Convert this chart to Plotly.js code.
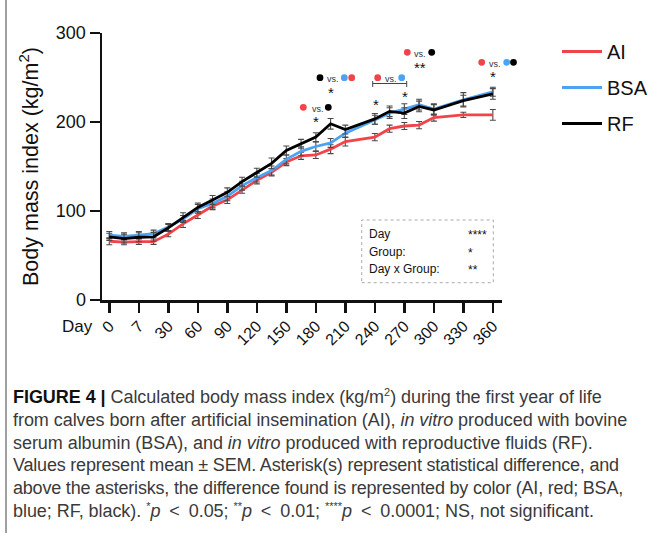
<!DOCTYPE html>
<html>
<head>
<meta charset="utf-8">
<script src="https://cdn.plot.ly/plotly-3.0.1.min.js"></script>
<style>
  html, body { margin:0; padding:0; background:#fff; }
  #wrap { position:relative; width:655px; height:540px; overflow:hidden; }
  #plot { position:absolute; left:0; top:0; width:655px; height:540px; }
  #border { position:absolute; left:5px; top:0; width:2px; height:533px; background:#a0a0a0; }
  #cap { position:absolute; left:13px; top:386px; font-family:'Liberation Sans', Arial, sans-serif; font-size:18px; line-height:22.8px; color:#3a3a3a; white-space:nowrap; letter-spacing:-0.05px; }
  #cap div { height:22.8px; }
  #cap b { color:#111; }
  #cap .sp { font-size:11px; position:relative; top:-7px; }
  #cap .op { margin:0 4px; }
  #cap .tight { letter-spacing:-0.2px; }
</style>
</head>
<body>
<div id="wrap">
  <div id="plot"></div>
  <div id="border"></div>
  <div id="cap">
    <div><b>FIGURE 4 |</b> Calculated body mass index (kg/m<span class="sp">2</span>) during the first year of life</div>
    <div>from calves born after artificial insemination (AI), <i>in vitro</i> produced with bovine</div>
    <div>serum albumin (BSA), and <i>in vitro</i> produced with reproductive fluids (RF).</div>
    <div class="tight">Values represent mean ± SEM. Asterisk(s) represent statistical difference, and</div>
    <div class="tight">above the asterisks, the difference found is represented by color (AI, red; BSA,</div>
    <div>blue; RF, black). <span class="sp">*</span><i>p</i> <span class="op">&lt;</span> 0.05; <span class="sp">**</span><i>p</i> <span class="op">&lt;</span> 0.01; <span class="sp">****</span><i>p</i> <span class="op">&lt;</span> 0.0001; NS, not significant.</div>
  </div>
</div>
<script>
// Axis slots (every sampling day, evenly spaced on the axis)
const slotDays = [0,3,7,15,30,45,60,75,90,105,120,135,150,165,180,195,210,225,240,255,270,285,300,315,330,345,360];
const tickDays = [0,7,30,60,90,120,150,180,210,240,270,300,330,360];
const tickLabels = ['0','7','30','60','90','120','150','180','210','240','270','300','330','360'];

// Sampling days with data
const days = [0,3,7,15,30,45,60,75,90,105,120,135,150,165,180,195,210,240,255,270,285,300,330,360];

// Mean body mass index (kg/m2)
const aiMean  = [66,65,65.5,65.5,74,85.5,95.5,105.5,112.5,124,134.5,143.5,155,162,163,169.5,178,183,192.5,195.5,196.5,205,208,208];
const bsaMean = [73,71.5,73,74.5,82,91,102.5,108.5,116.5,128.5,137.5,145.5,158,167,172.5,176.5,187.5,202.5,210,214.5,219.5,214.5,225,234];
const rfMean  = [71,69,70.5,71,81,93,104,112.5,121,133,143,153.5,168,175.5,183,198,191.5,203.5,212,210,217.5,213.5,224,231.5];

// SEM
const aiSem  = [4,3,3,3,3,4,4,4,4,4,4,4,4,4,4,5,5,4,4,4,4,4,3,6];
const bsaSem = [4,4,4,4,4,4,5,5,5,5,5,5,5,5,5,5,5,5,6,6,6,6,8,5];
const rfSem  = [4,5,5,5,4,5,5,5,5,5,5,6,5,5,5,6,5,6,6,6,6,6,6,6];

const seriesNames = ['AI','BSA','RF'];

const FONT = 'Liberation Sans, Arial, sans-serif';
const RED = '#f0444a', BLUE = '#4da2f2', BLACK = '#000000';

const xs = days.map(d => slotDays.indexOf(d));
const tickSlots = tickDays.map(d => slotDays.indexOf(d));

function trace(name, y, sem, color) {
  return {
    type:'scatter', mode:'lines', name:name, x:xs, y:y,
    line:{color:color, width:2.8},
    error_y:{type:'data', array:sem, visible:true, color:'#4a4a4a', thickness:1.1, width:3},
    legendgroup:name, hoverinfo:'skip'
  };
}
const data = [
  trace(seriesNames[0], aiMean, aiSem, RED),
  trace(seriesNames[1], bsaMean, bsaSem, BLUE),
  trace(seriesNames[2], rfMean, rfSem, BLACK)
];

// plot-area geometry (pixels)
const L = 102, R = 153, T = 33, B = 240, W = 655 - L - R, H = 540 - T - B;
const px = x => (x - L) / W;
const py = y => (540 - B - y) / H;

const shapes = [];
const annotations = [];
function dot(x, y, color) {
  const r = 3.4;
  shapes.push({type:'circle', xref:'paper', yref:'paper', x0:px(x-r), x1:px(x+r), y0:py(y+r), y1:py(y-r),
    fillcolor:color, line:{width:0}});
}
function txt(x, y, s, size, anchor, color) {
  annotations.push({xref:'paper', yref:'paper', x:px(x), y:py(y), text:s, showarrow:false,
    xanchor:anchor || 'center', yanchor:'middle', font:{family:FONT, size:size, color:color || '#222'}});
}
function vs(x, y) { txt(x, y, 'vs.', 9, 'center', '#333'); }
function star(x, y, s) { txt(x, y + 2, s, 15, 'center', '#111'); }

// day 180: AI vs RF
dot(303.3, 107.3, RED); vs(317.5, 109); dot(328.3, 107.3, BLACK); star(316, 119.5, '*');
// day 195: RF vs BSA, AI
dot(320, 77.7, BLACK); vs(333.3, 79); dot(344.3, 77.7, BLUE); dot(351.7, 77.7, RED); star(331, 90, '*');
// day 240 and 270 bracket: AI vs BSA
star(375.7, 102.7, '*');
dot(377.7, 77.7, RED); vs(390.8, 79); dot(401.7, 77.7, BLUE); star(405, 94, '*');
shapes.push({type:'line', xref:'paper', yref:'paper', x0:px(372.7), x1:px(406.7), y0:py(83.5), y1:py(83.5), line:{color:'#444', width:1}});
shapes.push({type:'line', xref:'paper', yref:'paper', x0:px(372.7), x1:px(372.7), y0:py(81), y1:py(87), line:{color:'#444', width:1}});
shapes.push({type:'line', xref:'paper', yref:'paper', x0:px(406.7), x1:px(406.7), y0:py(81), y1:py(87), line:{color:'#444', width:1}});
// day 285: AI vs RF
dot(407.3, 52.3, RED); vs(420.3, 54); dot(431.7, 52.3, BLACK); star(420, 65, '**');
// day 360: AI vs BSA RF
dot(481.7, 62.3, RED); vs(495.3, 64); dot(506.7, 62.3, BLUE); dot(513.5, 62.3, BLACK); star(493.3, 75, '*');

// statistics box
shapes.push({type:'rect', xref:'paper', yref:'paper', x0:px(361.7), x1:px(493.3), y0:py(282.7), y1:py(220),
  line:{color:'#aaaaaa', width:1, dash:'dot'}, fillcolor:'rgba(0,0,0,0)'});
const statLabels = ['Day','Group:','Day x Group:'];
const statStars = ['****','*','**'];
const statY = [234.3, 251.7, 269.3];
statLabels.forEach((s,i) => {
  txt(366.5, statY[i], s, 12, 'left', '#111');
  txt(466, statY[i] + 1, statStars[i], 12, 'left', '#111');
});

// "Day" label before the x tick labels
txt(95, 326, 'Day', 17, 'right', '#111');

const layout = {
  width:655, height:540,
  margin:{l:L, r:R, t:T, b:B, pad:0, autoexpand:false},
  paper_bgcolor:'rgba(0,0,0,0)', plot_bgcolor:'rgba(0,0,0,0)',
  font:{family:FONT, color:'#111'},
  showlegend:true,
  legend:{x:px(557), xanchor:'left', y:py(32), yanchor:'top', font:{family:FONT, size:20, color:'#111'},
    traceorder:'grouped', tracegroupgap:7, itemwidth:40, bgcolor:'rgba(0,0,0,0)'},
  xaxis:{range:[-0.495, 26.62], showgrid:false, zeroline:false, showline:true, linecolor:'#111', linewidth:2.5,
    ticks:'outside', ticklen:10, tickwidth:2.5, tickcolor:'#111', tickmode:'array', tickvals:tickSlots, ticktext:tickLabels,
    tickangle:-45, ticklabelstandoff:-2, tickfont:{family:FONT, size:16, color:'#111'}, automargin:false},
  yaxis:{range:[0,300], showgrid:false, zeroline:false, showline:true, linecolor:'#111', linewidth:2.5,
    ticks:'outside', ticklen:10, tickwidth:2.5, tickcolor:'#111', tickmode:'array', tickvals:[0,100,200,300],
    tickfont:{family:FONT, size:18, color:'#111'}, automargin:false,
    title:{text:'Body mass index (kg/m<sup>2</sup>)', font:{family:FONT, size:21.5, color:'#111'}, standoff:12}},
  shapes:shapes, annotations:annotations
};

Plotly.newPlot('plot', data, layout, {staticPlot:true, displayModeBar:false});
</script>
</body>
</html>
